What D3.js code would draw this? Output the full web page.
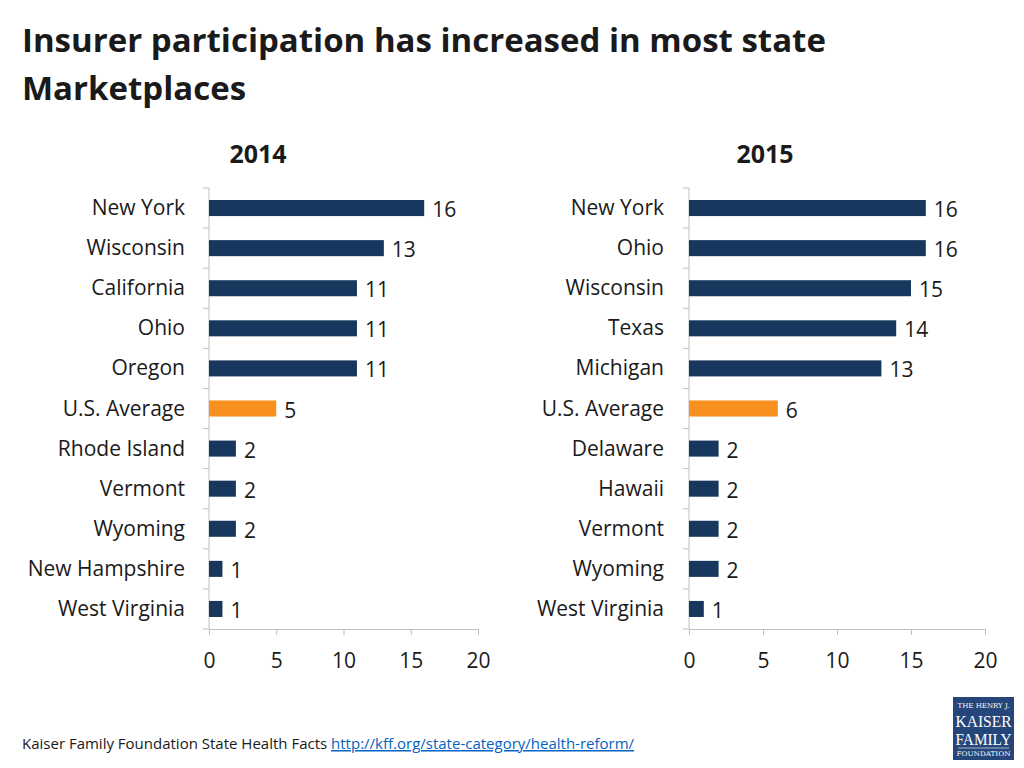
<!DOCTYPE html>
<html><head><meta charset="utf-8">
<script src="https://cdn.jsdelivr.net/npm/d3@7"></script>
<style>
body{margin:0;background:#fff;}
svg{display:block;}
</style></head>
<body>
<svg id="c" width="1024" height="768"></svg>
<script>
const states2014 = ["New York","Wisconsin","California","Ohio","Oregon","U.S. Average","Rhode Island","Vermont","Wyoming","New Hampshire","West Virginia"];
const values2014 = [16,13,11,11,11,5,2,2,2,1,1];
const states2015 = ["New York","Ohio","Wisconsin","Texas","Michigan","U.S. Average","Delaware","Hawaii","Vermont","Wyoming","West Virginia"];
const values2015 = [16,16,15,14,13,6,2,2,2,2,1];
const xTicks = [0,5,10,15,20];

const svg = d3.select("#c");
const FONT = "'Open Sans', 'Liberation Sans', sans-serif";
const NAVY = "#17375E", ORANGE = "#F7901E", AXIS = "#BFBFBF";

svg.append("text").attr("x",22).attr("y",52).attr("font-family",FONT).attr("font-weight","bold")
  .attr("font-size",33).attr("fill","#1a1a1a").text("Insurer participation has increased in most state");
svg.append("text").attr("x",22).attr("y",100).attr("font-family",FONT).attr("font-weight","bold")
  .attr("font-size",33).attr("fill","#1a1a1a").text("Marketplaces");

function panel(title, cats, vals, x0, x1, labelX, titleX){
  const y = d3.scaleBand().domain(cats).range([188,629]).paddingInner(0.6).paddingOuter(0.3);
  const x = d3.scaleLinear().domain([0,20]).range([x0,x1]);
  const g = svg.append("g");
  g.append("text").attr("x",titleX).attr("y",163).attr("text-anchor","middle")
    .attr("font-family",FONT).attr("font-weight","bold").attr("font-size",25).attr("fill","#1a1a1a").text(title);
  const xa = g.append("g").attr("transform",`translate(0,629)`)
    .call(d3.axisBottom(x).tickValues(xTicks).tickSize(6).tickSizeOuter(0).tickPadding(18));
  xa.select(".domain").attr("stroke",AXIS);
  xa.selectAll(".tick line").attr("stroke",AXIS);
  xa.selectAll(".tick text").attr("font-family",FONT).attr("font-size",21).attr("fill","#1a1a1a");
  const bounds = d3.range(cats.length+1).map(i => 188 + i*(441/cats.length));
  g.append("line").attr("x1",x0).attr("x2",x0).attr("y1",188).attr("y2",629).attr("stroke",AXIS);
  g.selectAll(".yt").data(bounds).join("line").attr("x1",x0-6).attr("x2",x0)
    .attr("y1",d=>d).attr("y2",d=>d).attr("stroke",AXIS);
  g.selectAll(".bar").data(cats).join("rect")
    .attr("x",x0).attr("y",d=>y(d)).attr("width",(d,i)=>x(vals[i])-x0).attr("height",y.bandwidth())
    .attr("fill",d=>d==="U.S. Average"?ORANGE:NAVY);
  g.selectAll(".val").data(cats).join("text")
    .attr("x",(d,i)=>x(vals[i])+8).attr("y",d=>y(d)+y.bandwidth()/2+9)
    .attr("font-family",FONT).attr("font-size",21).attr("fill","#1a1a1a").text((d,i)=>vals[i]);
  g.selectAll(".cat").data(cats).join("text")
    .attr("x",labelX).attr("y",d=>y(d)+y.bandwidth()/2+7).attr("text-anchor","end")
    .attr("font-family",FONT).attr("font-size",21).attr("fill","#1a1a1a").text(d=>d);
}
panel("2014", states2014, values2014, 209, 478, 185, 258);
panel("2015", states2015, values2015, 689, 985, 664, 765);

const ft = svg.append("text").attr("x",22).attr("y",749).attr("font-family",FONT).attr("font-size",15).attr("fill","#1a1a1a");
ft.append("tspan").text("Kaiser Family Foundation State Health Facts ");
ft.append("tspan").attr("fill","#0563C1").attr("text-decoration","underline").text("http://kff.org/state-category/health-reform/");

const lg = svg.append("g");
lg.append("rect").attr("x",953).attr("y",697).attr("width",61).attr("height",63).attr("fill","#25467A");
const SERIF = "'DejaVu Serif','Liberation Serif',serif";
lg.append("text").attr("x",983.5).attr("y",708).attr("text-anchor","middle").attr("font-family",SERIF).attr("font-size",7).attr("fill","#fff").text("THE HENRY J.");
lg.append("text").attr("x",983.5).attr("y",727).attr("text-anchor","middle").attr("font-family","'Liberation Serif',serif").attr("font-size",17).attr("fill","#fff").attr("textLength",56).attr("lengthAdjust","spacingAndGlyphs").text("KAISER");
lg.append("text").attr("x",983.5).attr("y",745).attr("text-anchor","middle").attr("font-family","'Liberation Serif',serif").attr("font-size",17).attr("fill","#fff").attr("textLength",56).attr("lengthAdjust","spacingAndGlyphs").text("FAMILY");
lg.append("line").attr("x1",958).attr("x2",1009).attr("y1",748).attr("y2",748).attr("stroke","#fff").attr("stroke-width",0.6);
lg.append("text").attr("x",983.5).attr("y",756).attr("text-anchor","middle").attr("font-family",SERIF).attr("font-size",6.5).attr("fill","#fff").attr("textLength",54).attr("lengthAdjust","spacingAndGlyphs").text("FOUNDATION");
</script>
</body></html>
